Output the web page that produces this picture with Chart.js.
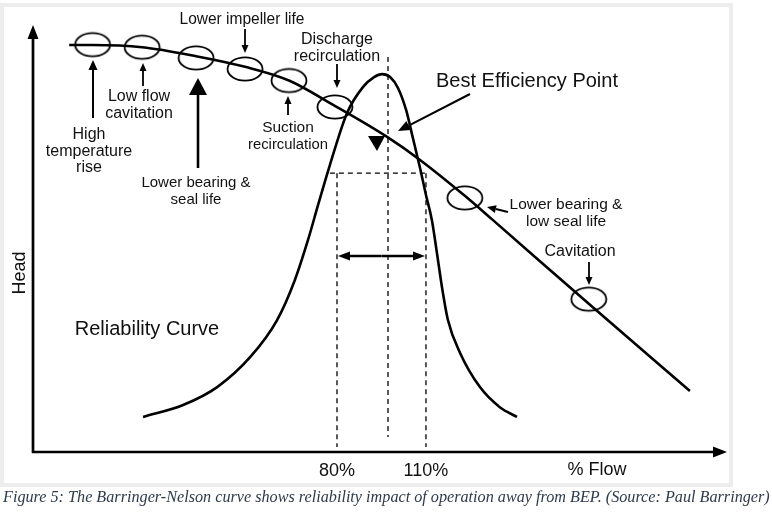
<!DOCTYPE html>
<html>
<head>
<meta charset="utf-8">
<title>Barringer-Nelson curve</title>
<script src="https://cdn.jsdelivr.net/npm/chart.js@4.4.1/dist/chart.umd.min.js"></script>
<style>
  body { margin: 0; width: 772px; height: 513px; overflow: hidden; position: relative; background: #fff; }
  #frame { position: absolute; left: 0; top: 3px; width: 733px; height: 484px; box-sizing: border-box; border: 4px solid #ededed; }
  #wrap { position: absolute; left: 0; top: 0; width: 772px; height: 490px; }
  #caption {
    position: absolute; left: 3px; top: 487px; white-space: nowrap;
    font: italic 16.2px "Liberation Serif", "Times New Roman", serif; line-height: 20px; color: #2f3a4a;
  }
</style>
</head>
<body>
<div id="frame"></div>
<div id="wrap"><canvas id="bn-chart"></canvas></div>
<div id="caption">Figure 5: The Barringer-Nelson curve shows reliability impact of operation away from BEP. (Source: Paul Barringer)</div>

<script>
// flow in % of rated, head / reliability in arbitrary 0-100 units
const flowTicks = [80, 110];

const headFlow = [-10.3, -2.6, 14.3, 32.5, 49.0, 63.8, 78.7, 96.9, 108.0, 123.1, 132.6, 164.9, 199.0];
const headValues = [95.3, 95.3, 94.8, 92.7, 90.2, 87.0, 81.3, 73.8, 68.4, 60.0, 54.3, 34.7, 14.3];

const relFlow = [14.6, 28.1, 39.6, 50.7, 59.8, 65.8, 70.2, 73.6, 77.6, 83.4, 88.8, 92.5, 95.2, 97.9,
  100.6, 103.3, 105.6, 108.0, 110.0, 112.0, 113.7, 115.4, 117.4, 121.5, 128.2, 134.9, 140.7];
const relValues = [8.2, 11.0, 15.2, 22.2, 30.9, 40.3, 49.6, 57.8, 67.2, 79.4, 85.5, 87.8, 88.5, 87.8,
  85.2, 80.1, 73.5, 66.5, 60.2, 54.3, 46.6, 38.6, 30.9, 23.2, 15.2, 10.5, 8.2];

// trouble spots circled on the head curve
const zoneFlow = [-2.4, 14.3, 32.5, 49.0, 63.8, 79.3, 123.1, 164.9];
const zoneHead = [95.4, 94.8, 92.3, 89.7, 87.0, 80.8, 59.5, 35.8];

const bepFlow = 97.2;
const bepLine = [92.5, 3.5];
const bandTop = 65.3;
const bandBottom = 1.2;
const bandLeft = 77.6;
const bandArrowY = 45.9;

const ink = '#000';
const sans = '"Liberation Sans", Arial, Helvetica, sans-serif';

const pts = (xs, ys) => xs.map((x, i) => ({ x: x, y: ys[i] }));

// ellipse marker used as point style
const ring = document.createElement('canvas');
ring.width = 40; ring.height = 28;
const rc = ring.getContext('2d');
rc.strokeStyle = ink; rc.lineWidth = 1.8;
rc.beginPath(); rc.ellipse(20, 14, 17.5, 11.7, 0, 0, Math.PI * 2); rc.stroke();

function arrow(ctx, x1, y1, x2, y2, len, half, lw) {
  const a = Math.atan2(y2 - y1, x2 - x1);
  const bx = x2 - len * Math.cos(a), by = y2 - len * Math.sin(a);
  ctx.lineWidth = lw;
  ctx.beginPath(); ctx.moveTo(x1, y1); ctx.lineTo(bx, by); ctx.stroke();
  ctx.beginPath(); ctx.moveTo(x2, y2);
  ctx.lineTo(bx + half * Math.sin(a), by - half * Math.cos(a));
  ctx.lineTo(bx - half * Math.sin(a), by + half * Math.cos(a));
  ctx.closePath(); ctx.fill();
}

const notes = [
  { text: ['Lower impeller life'], x: 242, y: 20, size: 16, w: 125 },
  { text: ['Discharge', 'recirculation'], x: 337, y: 40, size: 16 },
  { text: ['Low flow', 'cavitation'], x: 139, y: 97, size: 16 },
  { text: ['High', 'temperature', 'rise'], x: 89, y: 135, size: 16 },
  { text: ['Lower bearing &', 'seal life'], x: 196, y: 183, size: 15 },
  { text: ['Suction', 'recirculation'], x: 288, y: 128, size: 15.5, w: 80 },
  { text: ['Best Efficiency Point'], x: 527, y: 81, size: 20 },
  { text: ['Lower bearing &', 'low seal life'], x: 566, y: 205, size: 15.5 },
  { text: ['Cavitation'], x: 580, y: 252, size: 16 },
  { text: ['Reliability Curve'], x: 147, y: 329, size: 20 },
  { text: ['% Flow'], x: 597, y: 470, size: 18 }
];

const pointers = [
  [245, 29, 245, 53, 8, 3.5, 1.8],
  [337, 64, 337, 88, 8, 3.5, 1.8],
  [143, 86, 143, 63, 8, 3.5, 1.8],
  [93, 118, 93, 60, 10, 4.5, 2],
  [198, 168, 198, 78, 17, 9, 2.6],
  [288, 115, 288, 96, 8, 3.5, 1.8],
  [470, 94, 398, 131, 12, 5, 2],
  [508, 212, 487, 207, 9, 4, 2],
  [589, 262, 589, 285, 8, 3.5, 1.8]
];

const decor = {
  id: 'decor',
  afterDatasetsDraw(chart) {
    const { ctx, chartArea: a, scales: { x, y } } = chart;
    ctx.save();
    ctx.fillStyle = ink; ctx.strokeStyle = ink; ctx.lineCap = 'butt';

    // axes with arrow heads
    arrow(ctx, a.left, a.bottom + 1, a.left, a.top, 14, 5.5, 2.7);
    arrow(ctx, a.left - 1, a.bottom, a.right, a.bottom, 14, 5.5, 2.7);

    // operating band arrow
    const ya = y.getPixelForValue(bandArrowY);
    const xl = x.getPixelForValue(flowTicks[0]), xr = x.getPixelForValue(flowTicks[1]);
    arrow(ctx, (xl + xr) / 2, ya, xl + 1, ya, 12, 4.5, 2.5);
    arrow(ctx, (xl + xr) / 2, ya, xr - 1, ya, 12, 4.5, 2.5);

    pointers.forEach(p => arrow(ctx, p[0], p[1], p[2], p[3], p[4], p[5], p[6]));

    // small marker near BEP
    ctx.beginPath();
    ctx.moveTo(368, 136); ctx.lineTo(385, 136); ctx.lineTo(377, 151);
    ctx.closePath(); ctx.fill();

    ctx.textAlign = 'center'; ctx.textBaseline = 'middle';
    ctx.fillStyle = '#111';
    notes.forEach(n => {
      ctx.font = n.size + 'px ' + sans;
      n.text.forEach((t, i) => {
        const yy = n.y + i * 16.5;
        if (n.w) ctx.fillText(t, n.x, yy, n.w); else ctx.fillText(t, n.x, yy);
      });
    });

    ctx.font = '18px ' + sans;
    ctx.translate(20, 273); ctx.rotate(-Math.PI / 2);
    ctx.fillText('Head', 0, 0);
    ctx.restore();
  }
};

const dashed = { borderColor: ink, borderWidth: 1.3, borderDash: [5, 4], pointRadius: 0, showLine: true };

new Chart(document.getElementById('bn-chart'), {
  type: 'scatter',
  data: {
    datasets: [
      { label: 'zones', data: pts(zoneFlow, zoneHead), pointStyle: ring, pointRadius: 12 },
      { label: 'Head', data: pts(headFlow, headValues), showLine: true, borderColor: ink, borderWidth: 2.6,
        pointRadius: 0, cubicInterpolationMode: 'monotone' },
      { label: 'Reliability', data: pts(relFlow, relValues), showLine: true, borderColor: ink, borderWidth: 2.6,
        pointRadius: 0, cubicInterpolationMode: 'monotone' },
      Object.assign({ data: [{ x: bepFlow, y: bepLine[0] }, { x: bepFlow, y: bepLine[1] }] }, dashed),
      Object.assign({ data: [{ x: flowTicks[0], y: bandTop }, { x: flowTicks[0], y: bandBottom }] }, dashed),
      Object.assign({ data: [{ x: flowTicks[1], y: bandTop }, { x: flowTicks[1], y: bandBottom }] }, dashed),
      Object.assign({ data: [{ x: bandLeft, y: bandTop }, { x: flowTicks[1], y: bandTop }] }, dashed)
    ]
  },
  options: {
    responsive: true,
    maintainAspectRatio: false,
    animation: false,
    events: [],
    layout: { padding: { left: 33, right: 45, top: 25, bottom: 8 } },
    plugins: { legend: { display: false }, tooltip: { enabled: false } },
    scales: {
      x: {
        type: 'linear', min: -22.5, max: 211.5,
        grid: { display: false, drawTicks: false },
        border: { display: false },
        afterBuildTicks: s => { s.ticks = flowTicks.map(v => ({ value: v })); },
        afterFit: s => { s.height = 30; },
        ticks: { color: '#111', padding: 8, font: { family: sans, size: 18 }, callback: v => v + '%' }
      },
      y: { type: 'linear', min: 0, max: 100, display: false }
    }
  },
  plugins: [decor]
});
</script>
</body>
</html>
